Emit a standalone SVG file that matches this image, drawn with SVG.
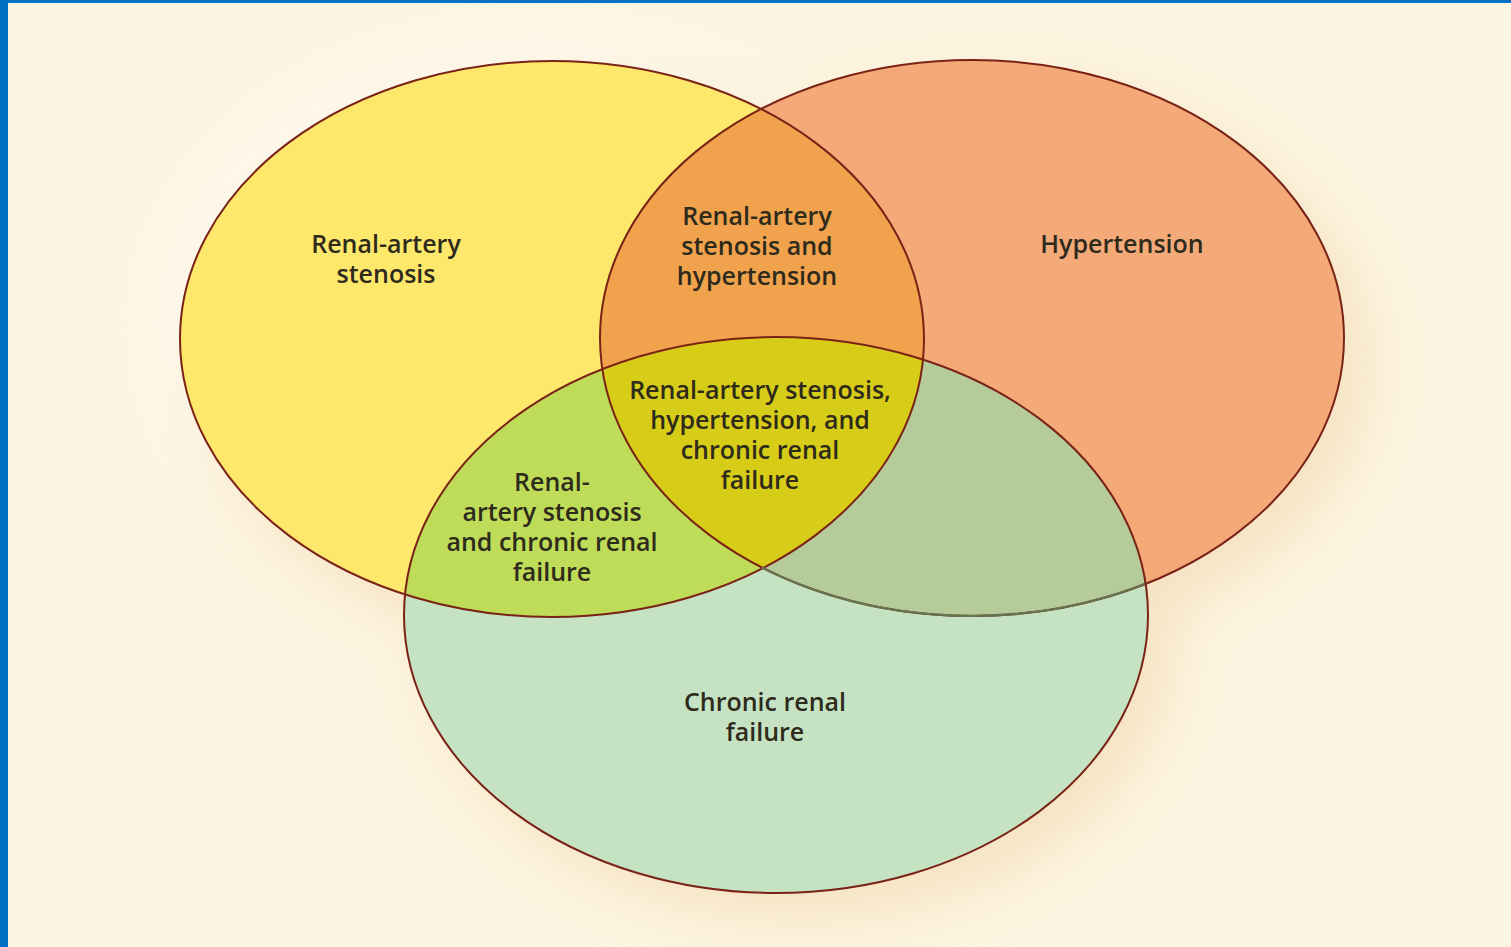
<svg xmlns="http://www.w3.org/2000/svg" width="1511" height="947" viewBox="0 0 1511 947">
  <style>
    .lbl { font-family: "Open Sans", "Liberation Sans", sans-serif; font-size: 25px; font-weight: 600; fill: #2e2a1c; text-anchor: middle; }
    .edge { fill: none; stroke: #7a2216; stroke-width: 2; }
  </style>
  <defs>
    <ellipse id="eY" cx="552" cy="339" rx="372" ry="278"/>
    <ellipse id="eO" cx="972" cy="338" rx="372" ry="278"/>
    <ellipse id="eG" cx="776" cy="615" rx="372" ry="278"/>
    <clipPath id="cY"><use href="#eY"/></clipPath>
    <clipPath id="cO"><use href="#eO"/></clipPath>
    <clipPath id="cG"><use href="#eG"/></clipPath>
    <filter id="blur" x="-20%" y="-20%" width="140%" height="140%">
      <feGaussianBlur stdDeviation="30"/>
    </filter>
  </defs>

  <!-- background -->
  <rect x="0" y="0" width="1511" height="947" fill="#fdf5e1"/>
  <g filter="url(#blur)" opacity="0.6">
    <use href="#eY" transform="translate(-14,-14)" fill="#ffffff"/>
    <use href="#eY" transform="translate(26,26)" fill="#f0d6ad"/>
    <use href="#eO" transform="translate(26,26)" fill="#f0d6ad"/>
    <use href="#eG" transform="translate(26,26)" fill="#f0d6ad"/>
  </g>

  <!-- frame -->
  <rect x="0" y="0" width="1511" height="3" fill="#0070c4"/>
  <rect x="0" y="0" width="8" height="947" fill="#0070c4"/>

  <!-- region fills -->
  <g id="set-stenosis"><use href="#eY" fill="#fde86c"/></g>
  <g id="set-hypertension"><use href="#eO" fill="#f4aa78"/></g>
  <g id="set-stenosis-hypertension"><use href="#eO" fill="#f0a24c" clip-path="url(#cY)"/></g>
  <g id="set-crf"><use href="#eG" fill="#c5e3c3"/></g>
  <g id="set-stenosis-crf"><use href="#eG" fill="#bedc58" clip-path="url(#cY)"/></g>
  <g id="set-hypertension-crf"><use href="#eG" fill="#b5cb9a" clip-path="url(#cO)"/></g>
  <g id="set-all"><g clip-path="url(#cY)"><use href="#eG" fill="#d7cc17" clip-path="url(#cO)"/></g></g>

  <!-- outlines -->
  <g id="outlines">
    <use href="#eY" class="edge"/>
    <use href="#eO" class="edge"/>
    <path d="M762,567.5 A372,278 0 0 0 1147,583" fill="none" stroke="#66734f" stroke-width="2.4"/>
    <use href="#eG" class="edge"/>
  </g>

  <!-- labels -->
  <g id="label-stenosis">
    <text class="lbl" x="386" y="253">Renal-artery</text>
    <text class="lbl" x="386" y="283">stenosis</text>
  </g>
  <g id="label-hypertension">
    <text class="lbl" x="1122" y="253">Hypertension</text>
  </g>
  <g id="label-stenosis-hypertension">
    <text class="lbl" x="757" y="225">Renal-artery</text>
    <text class="lbl" x="757" y="255">stenosis and</text>
    <text class="lbl" x="757" y="285">hypertension</text>
  </g>
  <g id="label-all">
    <text class="lbl" x="760" y="399">Renal-artery stenosis,</text>
    <text class="lbl" x="760" y="429">hypertension, and</text>
    <text class="lbl" x="760" y="459">chronic renal</text>
    <text class="lbl" x="760" y="489">failure</text>
  </g>
  <g id="label-stenosis-crf">
    <text class="lbl" x="552" y="491">Renal-</text>
    <text class="lbl" x="552" y="521">artery stenosis</text>
    <text class="lbl" x="552" y="551">and chronic renal</text>
    <text class="lbl" x="552" y="581">failure</text>
  </g>
  <g id="label-crf">
    <text class="lbl" x="765" y="711">Chronic renal</text>
    <text class="lbl" x="765" y="741">failure</text>
  </g>
</svg>
